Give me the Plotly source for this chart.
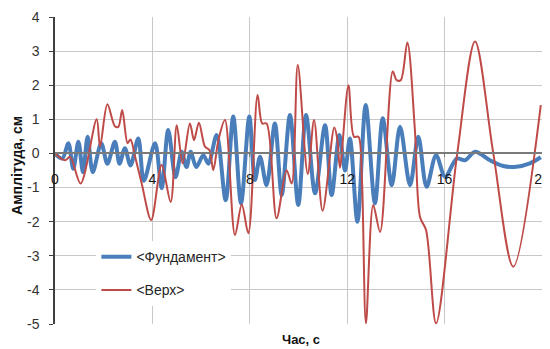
import plotly.graph_objects as go

# Time (s) and amplitude (cm)
fund_t = [0, 0.3, 0.55, 0.75, 0.96, 1.15, 1.34, 1.55, 1.9, 2.15, 2.46, 2.65, 2.87, 3.1, 3.42,
          3.65, 4.11, 4.38, 4.65, 4.95, 5.2, 5.4, 5.57, 5.8, 6.09, 6.3, 6.64, 7.01, 7.32, 7.64,
          7.98, 8.21, 8.42, 8.69, 9.03, 9.31, 9.65, 9.99, 10.31, 10.68, 11.09, 11.36, 11.68,
          11.91, 12.11, 12.42, 12.76, 13.14, 13.46, 13.83, 14.17, 14.58, 14.92, 15.26, 15.65,
          16.02, 16.5, 16.84, 17.25, 17.86, 18.41, 18.94, 19.5, 19.95]
fund_y = [0, -0.15, 0.3, -0.45, 0.34, -0.55, 0.49, -0.55, 0.3, -0.3, 0.34, -0.3, 0.15, -0.35, 0.44,
          -0.8, 0.3, -1.02, 0.69, -0.7, 0.05, -0.4, 0.05, -0.4, -0.05, -0.3, 0.54, -1.37, 1.08, -1.46,
          1.08, -0.78, -0.1, -0.93, 0.88, -1.22, 1.13, -1.51, 1.13, -1.17, 0.83, -1.22, 0.54,
          -0.5, 0.44, -2.0, 1.42, -1.46, 1.03, -0.93, 0.78, -0.93, 0.49, -0.98, -0.05,
          -0.68, -0.15, -0.2, 0.05, -0.2, -0.37, -0.39, -0.29, -0.11]

top_t = [0, 0.41, 0.62, 1.05, 1.71, 1.85, 2.15, 2.46, 2.6, 2.76, 2.98, 3.1, 3.29, 3.56, 3.95,
         4.38, 4.75, 5.0, 5.24, 5.54, 5.71, 5.91, 6.16, 6.34, 6.5, 6.71, 6.98, 7.39, 7.67, 7.94,
         8.32, 8.51, 8.69, 9.1, 9.51, 9.72, 9.97, 10.38, 10.64, 10.99, 11.47, 11.6, 11.7, 12.05,
         12.28, 12.46, 12.6, 12.77, 13.07, 13.35, 13.87, 14.03, 14.2, 14.47, 14.78, 14.99, 15.24,
         15.65, 16.52, 17.25, 18.0, 18.82, 19.95]
top_y = [0, -0.2, -0.1, -0.88, 1.0, 0.2, 1.44, 0.8, 0.78, 1.27, 0.3, 0.41, -0.1, -0.88, -1.95,
         -0.34, -1.42, 0.83, -0.29, 0.88, 0.39, 0.9, 0.2, 0.1, -0.49, 0.39, 0.98, -2.39, -1.5, -2.34,
         1.71, 0.88, 0.88, -1.9, -0.49, -0.88, 2.59, -0.6, 0.98, -1.68, 0.76, 0.39, -0.42, 2.0,
         0.49, 0.49, -0.68, -4.98, -1.51, -2.3, 2.4, 2.15, 2.15, 3.25, 0.69, -1.86, -2.25,
         -4.98, 0.0, 3.28, 0.0, -3.32, 1.42]

x_ticks = [0, 4, 8, 12, 16, 20]
y_ticks = [4, 3, 2, 1, 0, -1, -2, -3, -4, -5]

BLUE = "#4a7ebb"
RED = "#be4b48"
FONT = "Liberation Sans"

fig = go.Figure()
fig.add_trace(go.Scatter(x=fund_t, y=fund_y, mode="lines", name="<Фундамент>",
                         line=dict(color=BLUE, width=4, shape="spline", smoothing=0.9),
                         legendgroup="a"))
fig.add_trace(go.Scatter(x=top_t, y=top_y, mode="lines", name="<Верх>",
                         line=dict(color=RED, width=2, shape="spline", smoothing=0.9),
                         legendgroup="b"))

# The page body adds an 8px offset, so the figure is sized/margined to compensate.
fig.update_layout(
    width=552, height=341,
    margin=dict(l=47, r=18, t=9, b=25, autoexpand=False),
    paper_bgcolor="white", plot_bgcolor="white",
    font=dict(family=FONT, size=13, color="#262626"),
    showlegend=True,
    legend=dict(x=0.085, y=0.27, xanchor="left", yanchor="top", bgcolor="white",
                traceorder="grouped", tracegroupgap=12,
                font=dict(family=FONT, size=14, color="#262626")),
    xaxis=dict(range=[0, 20], tickvals=x_ticks, ticktext=[str(v) for v in x_ticks],
               showgrid=True, gridcolor="#c8c8c8", gridwidth=1,
               anchor="free", position=5/9, showline=True, linecolor="#7a7a7a", linewidth=2,
               ticks="outside", ticklen=3, tickcolor="#7a7a7a", ticklabelstandoff=10,
               ticklabeloverflow="allow",
               tickfont=dict(family=FONT, size=14, color="#111111"), zeroline=False,
               automargin=False),
    yaxis=dict(range=[-5, 4], tickvals=y_ticks, ticktext=[str(v) for v in y_ticks],
               showgrid=True, gridcolor="#c8c8c8", gridwidth=1,
               showline=True, linecolor="#404040", linewidth=1.5,
               ticks="outside", ticklen=4, tickcolor="#404040", ticklabelstandoff=7,
               zeroline=True, zerolinecolor="#7a7a7a", zerolinewidth=2,
               tickfont=dict(family=FONT, size=14, color="#333333"), automargin=False),
)

fig.add_annotation(text="<b>Час, с</b>", xref="paper", yref="paper", x=0.505, y=-0.049,
                   xanchor="center", yanchor="middle", showarrow=False,
                   font=dict(family=FONT, size=13, color="#111111"))
fig.add_annotation(text="<b>Амплітуда, см</b>", xref="paper", yref="paper", x=-0.078, y=0.515,
                   xanchor="center", yanchor="middle", textangle=-90, showarrow=False,
                   font=dict(family=FONT, size=14, color="#111111"))

fig.write_html("out.html")
